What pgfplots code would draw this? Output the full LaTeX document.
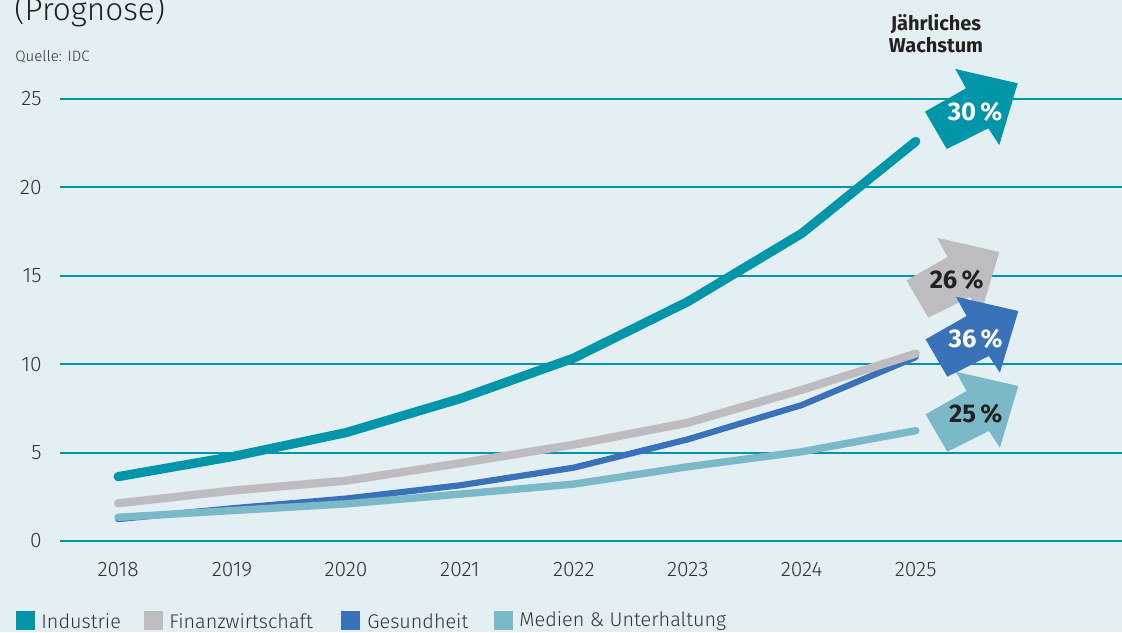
\documentclass[border=0pt]{standalone}
\usepackage{pgfplots}
\pgfplotsset{compat=1.18}
\usepackage{fontspec}
\setmainfont{Fira Sans Light}[BoldFont={Fira Sans Bold}]
\definecolor{bg}{HTML}{E4EFF4}
\definecolor{ind}{HTML}{0096A9}
\definecolor{fin}{HTML}{BDBDC1}
\definecolor{ges}{HTML}{3A72BA}
\definecolor{med}{HTML}{7BB9C8}
\definecolor{txt}{HTML}{333333}
\definecolor{dark}{HTML}{222222}

\newcommand{\arr}[5]{\begin{scope}[shift={(#1,#2)}]
\fill[#3] (0,0)--(-21.7,-37.3)--(19.3,-60.7)--(8.6,-80)--(71,-65.7)--(52.6,-4)--(41.6,-20.7)--cycle;
\node[text=#4, font=\fontsize{12.8}{14}\selectfont\bfseries, inner sep=0pt] at (28.4,-37.5) {#5};
\end{scope}}

\begin{document}
\begin{tikzpicture}
\useasboundingbox (0,0) rectangle (561pt,316pt);
\fill[bg] (0,0) rectangle (561pt,316pt);
\begin{axis}[at={(30pt,45.5pt)}, anchor=south west, scale only axis,
  width=531pt, height=221pt,
  xmin=2017.49, xmax=2026.81, ymin=0, ymax=25,
  axis line style={draw=none}, major tick length=0pt,
  ymajorgrids, grid style={ind, line width=1pt},
  xtick={2018,...,2025}, ytick={0,5,...,25},
  tick label style={font=\fontsize{10.5}{12}\selectfont, text=txt},
  /pgf/number format/assume math mode=true, /pgf/number format/1000 sep={},
  xticklabel style={anchor=center, yshift=-14.5pt},
  yticklabel style={anchor=east, inner sep=0pt, xshift=-9pt},
  clip=false]
\addplot[ges, line width=3.1pt, line cap=round, line join=round] coordinates {(2018,1.24) (2019,1.85) (2020,2.4) (2021,3.15) (2022,4.15) (2023,5.75) (2024,7.69) (2025,10.4)};
\addplot[med, line width=3.7pt, line cap=round, line join=round] coordinates {(2018,1.34) (2019,1.72) (2020,2.1) (2021,2.65) (2022,3.22) (2023,4.2) (2024,5.05) (2025,6.24)};
\addplot[fin, line width=4.1pt, line cap=round, line join=round] coordinates {(2018,2.13) (2019,2.85) (2020,3.41) (2021,4.4) (2022,5.45) (2023,6.69) (2024,8.55) (2025,10.6)};
\addplot[ind, line width=4.6pt, line cap=round, line join=round] coordinates {(2018,3.64) (2019,4.77) (2020,6.13) (2021,8.05) (2022,10.35) (2023,13.54) (2024,17.4) (2025,22.6)};
\end{axis}
\begin{scope}[x=0.5pt, y=-0.5pt, yshift=316pt]
\arr{946.7}{149}{ind}{white}{30\,\%}
\arr{928.3}{317.7}{fin}{dark}{26\,\%}
\arr{947.3}{451.7}{med}{dark}{25\,\%}
\arr{947.3}{376.7}{ges}{white}{36\,\%}
\node[font=\fontsize{10}{11}\selectfont\bfseries, text=dark, align=center, inner sep=0pt] at (936,34) {Jährliches\\Wachstum};
\node[font=\fontsize{15.8}{18}\selectfont, text=dark, anchor=base west, inner sep=0pt] at (14,21) {(Prognose)};
\node[font=\fontsize{7.5}{9}\selectfont, text=txt, anchor=west, inner sep=0pt] at (15,56.7) {Quelle: IDC};
\foreach \sx/\tx/\c/\t in {16/41/ind/Industrie, 144/169/fin/Finanzwirtschaft, 341/367/ges/Gesundheit, 494/519/med/Medien \& Unterhaltung}{
  \fill[\c] (\sx,611) rectangle ++(19,19);
  \node[font=\fontsize{9.9}{12}\selectfont, text=txt, anchor=west, inner sep=0pt] at (\tx,621) {\t};
}
\end{scope}
\end{tikzpicture}
\end{document}
